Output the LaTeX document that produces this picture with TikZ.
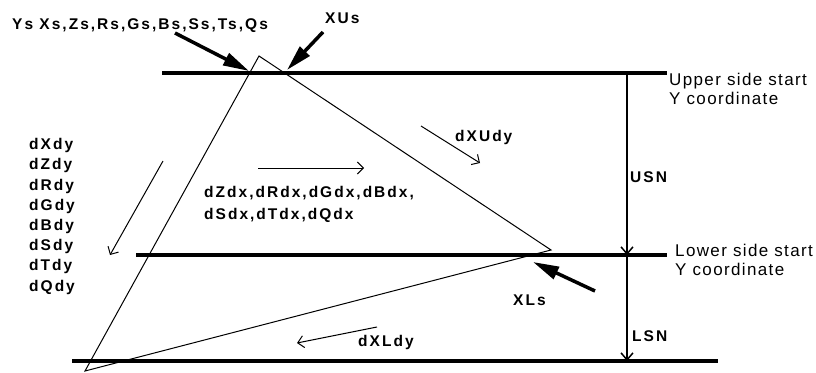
\documentclass[tikz,border=0pt]{standalone}
\usepackage{fontspec}
\setmainfont{Liberation Sans}
\newfontfamily\boldlbl{Liberation Sans}[LetterSpace=13]
\newfontfamily\notefont{Liberation Sans}[LetterSpace=8]
\usetikzlibrary{arrows.meta,calc}
\tikzset{
  thickline/.style={line width=4pt},
  edgeline/.style={line width=1pt, line join=miter},
  bigarrow/.style={line width=3.5pt, -{Triangle[length=26pt,width=13pt]}},
  smallarrow/.style={line width=1pt, -{Straight Barb[length=6pt,width=12pt]}},
  dimarrow/.style={line width=1.5pt, -{Straight Barb[length=7pt,width=12pt]}},
  lbl/.style={inner sep=0pt, anchor=base west, align=left, font=\boldlbl\bfseries\fontsize{15.5}{20.2}\selectfont},
  note/.style={inner sep=0pt, anchor=base west, align=left, font=\notefont\fontsize{17}{19}\selectfont}
}
\begin{document}
\begin{tikzpicture}[x=1pt,y=-1pt]
\useasboundingbox (0,0) rectangle (816,372);
% horizontal lines
\coordinate (T1) at (162,73);  \coordinate (T2) at (667,73);
\coordinate (M1) at (136,255); \coordinate (M2) at (667,255);
\coordinate (B1) at (72,361);  \coordinate (B2) at (718,361);
% triangle
\coordinate (A) at (259,56);
\coordinate (R) at (551,250);
\coordinate (L) at (85,371);
\draw[edgeline] (A) -- (R) -- (L) -- cycle;
\draw[thickline] (T1) -- (T2);
\draw[thickline] (M1) -- (M2);
\draw[thickline] (B1) -- (B2);
% dimension arrows
\coordinate (U) at (627,73);
\coordinate (Mv) at (627,255);
\coordinate (Bv) at (627,361);
\draw[dimarrow] (U) -- (Mv);
\draw[dimarrow] (Mv) -- (Bv);
% big arrows
\coordinate (a1s) at (175,33);  \coordinate (a1e) at (249,71);
\coordinate (a2s) at (323,32);  \coordinate (a2e) at (287,70);
\coordinate (a3s) at (595,291); \coordinate (a3e) at (533,262);
\draw[bigarrow] (a1s) -- (a1e);
\draw[bigarrow] (a2s) -- (a2e);
\draw[bigarrow] (a3s) -- (a3e);
% small arrows
\coordinate (s1s) at (421,126); \coordinate (s1e) at (480,163);
\coordinate (s2s) at (258,168); \coordinate (s2e) at (364,168);
\coordinate (s3s) at (163,161); \coordinate (s3e) at (110,255);
\coordinate (s4s) at (377,327); \coordinate (s4e) at (297,343);
\draw[smallarrow] (s1s) -- (s1e);
\draw[smallarrow] (s2s) -- (s2e);
\draw[smallarrow] (s3s) -- (s3e);
\draw[smallarrow] (s4s) -- (s4e);
% labels (multi-line nodes: base = last line's baseline)
\node[lbl] (ys) at (12,29.5) {Ys Xs,Zs,Rs,Gs,Bs,Ss,Ts,Qs};
\node[lbl] (xus) at (325,23.5) {XUs};
\node[lbl] (dxudy) at (455,141) {dXUdy};
\node[lbl, font=\boldlbl\bfseries\fontsize{15.5}{21.5}\selectfont] (dzdx) at (204,219) {dZdx,dRdx,dGdx,dBdx,\\dSdx,dTdx,dQdx};
\node[lbl] (dxdy) at (29,291) {dXdy\\dZdy\\dRdy\\dGdy\\dBdy\\dSdy\\dTdy\\dQdy};
\node[lbl] (usn) at (630,182.5) {USN};
\node[lbl] (xls) at (513,305.5) {XLs};
\node[lbl] (lsn) at (632,341.5) {LSN};
\node[lbl] (dxldy) at (358,346) {dXLdy};
\node[note] (upper) at (669,104) {Upper side start\\Y coordinate};
\node[note, font=\notefont\fontsize{17}{18.5}\selectfont] (lower) at (675,275) {Lower side start\\Y coordinate};
\end{tikzpicture}
\end{document}
